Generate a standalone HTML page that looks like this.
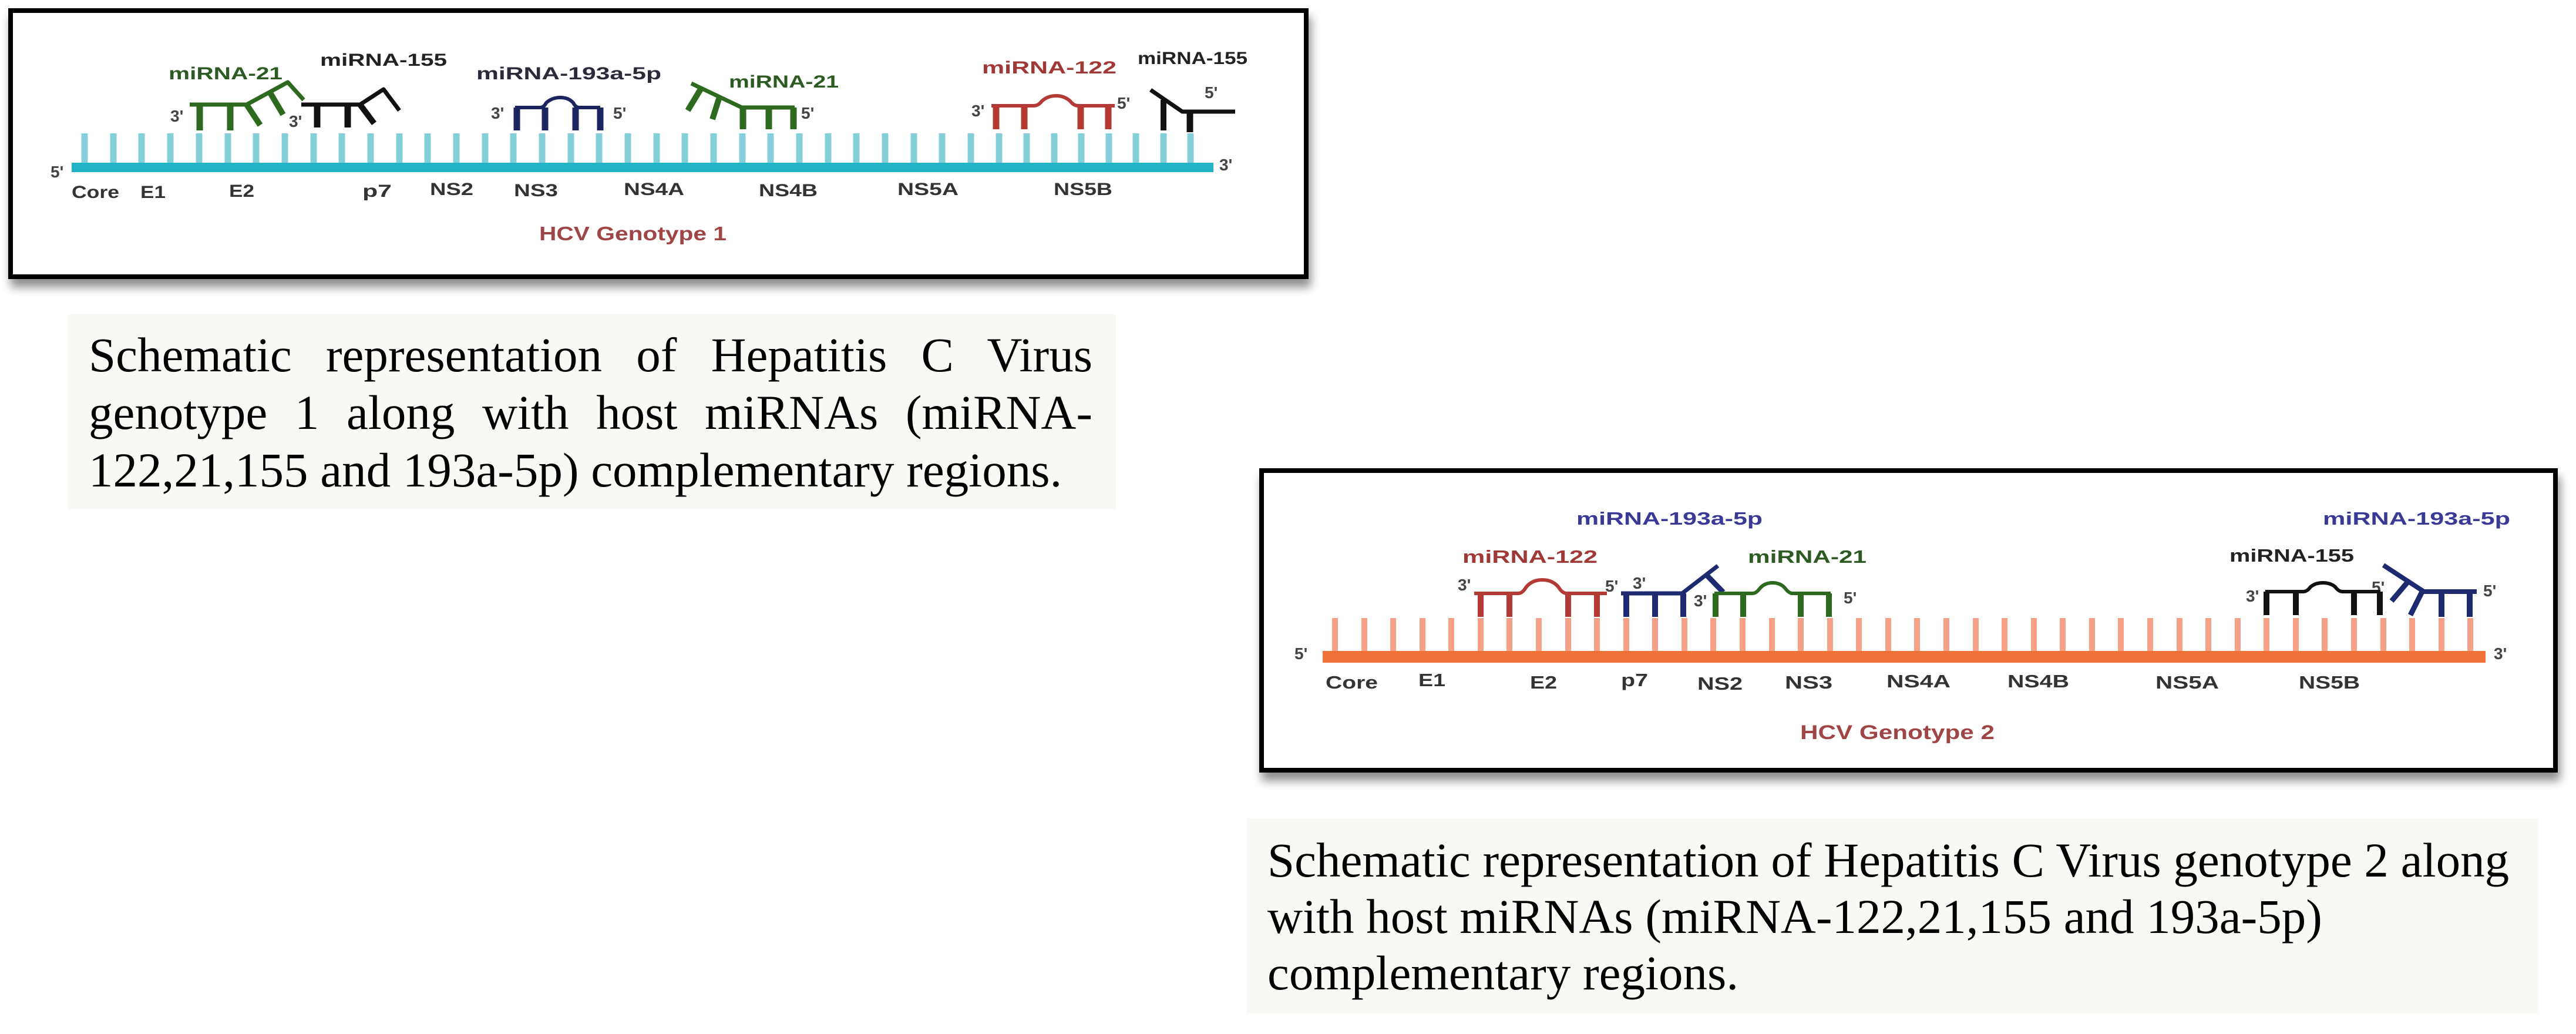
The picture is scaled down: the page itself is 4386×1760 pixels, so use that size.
<!DOCTYPE html>
<html><head><meta charset="utf-8"><style>
html,body{margin:0;padding:0;background:#fff;}
body{width:4386px;height:1760px;position:relative;overflow:hidden;}
svg{position:absolute;left:0;top:0;}
.cap{position:absolute;font-family:"Liberation Serif",serif;font-size:83px;line-height:98px;color:#000;}
.cap div{white-space:nowrap;}
.j{text-align:justify;text-align-last:justify;}
</style></head><body>
<svg width="4386" height="1760" viewBox="0 0 4386 1760" xmlns="http://www.w3.org/2000/svg">
<defs>
<filter id="sh" x="-5%" y="-10%" width="110%" height="130%">
<feGaussianBlur in="SourceAlpha" stdDeviation="8"/>
<feOffset dx="4" dy="14" result="b"/>
<feComponentTransfer><feFuncA type="linear" slope="0.45"/></feComponentTransfer>
<feMerge><feMergeNode/><feMergeNode in="SourceGraphic"/></feMerge>
</filter>
</defs>
<rect x="115" y="535" width="1785" height="332" fill="#f8f9f4"/>
<rect x="2123" y="1393" width="2198" height="332" fill="#f8f9f4"/>

<!-- Box 1 -->
<rect x="18" y="18" width="2206" height="453" fill="#fff" stroke="#000" stroke-width="8" filter="url(#sh)"/>
<g stroke="#84d0d8" stroke-width="11">
<line x1="144" y1="227" x2="144" y2="285"/><line x1="193" y1="227" x2="193" y2="285"/><line x1="241" y1="227" x2="241" y2="285"/><line x1="290" y1="227" x2="290" y2="285"/><line x1="339" y1="227" x2="339" y2="285"/><line x1="388" y1="227" x2="388" y2="285"/><line x1="436" y1="227" x2="436" y2="285"/><line x1="485" y1="227" x2="485" y2="285"/><line x1="534" y1="227" x2="534" y2="285"/><line x1="582" y1="227" x2="582" y2="285"/><line x1="631" y1="227" x2="631" y2="285"/><line x1="680" y1="227" x2="680" y2="285"/><line x1="728" y1="227" x2="728" y2="285"/><line x1="777" y1="227" x2="777" y2="285"/><line x1="826" y1="227" x2="826" y2="285"/><line x1="874" y1="227" x2="874" y2="285"/><line x1="923" y1="227" x2="923" y2="285"/><line x1="972" y1="227" x2="972" y2="285"/><line x1="1020" y1="227" x2="1020" y2="285"/><line x1="1069" y1="227" x2="1069" y2="285"/><line x1="1118" y1="227" x2="1118" y2="285"/><line x1="1166" y1="227" x2="1166" y2="285"/><line x1="1215" y1="227" x2="1215" y2="285"/><line x1="1264" y1="227" x2="1264" y2="285"/><line x1="1312" y1="227" x2="1312" y2="285"/><line x1="1361" y1="227" x2="1361" y2="285"/><line x1="1410" y1="227" x2="1410" y2="285"/><line x1="1458" y1="227" x2="1458" y2="285"/><line x1="1507" y1="227" x2="1507" y2="285"/><line x1="1556" y1="227" x2="1556" y2="285"/><line x1="1604" y1="227" x2="1604" y2="285"/><line x1="1653" y1="227" x2="1653" y2="285"/><line x1="1701" y1="227" x2="1701" y2="285"/><line x1="1748" y1="227" x2="1748" y2="285"/><line x1="1795" y1="227" x2="1795" y2="285"/><line x1="1841" y1="227" x2="1841" y2="285"/><line x1="1888" y1="227" x2="1888" y2="285"/><line x1="1934" y1="227" x2="1934" y2="285"/><line x1="1981" y1="227" x2="1981" y2="285"/><line x1="2027" y1="227" x2="2027" y2="285"/>
</g>
<rect x="122" y="277" width="1944" height="16" fill="#22b3c6"/>
<g font-family="Liberation Sans,sans-serif" font-weight="bold" fill="#444" font-size="28">
<text x="86" y="302">5'</text><text x="2076" y="290">3'</text>
<text x="290" y="207">3'</text><text x="492" y="216">3'</text>
<text x="836" y="202">3'</text><text x="1044" y="202">5'</text>
<text x="1364" y="202">5'</text>
<text x="1654" y="198">3'</text><text x="1902" y="185">5'</text>
<text x="2051" y="167">5'</text>
</g>
<g fill="none" stroke-linecap="butt" stroke-linejoin="round">
<g stroke="#2d6a1f">
<polyline points="323,178 420,178 490,140 517,170" stroke-width="7"/>
<line x1="340" y1="178" x2="340" y2="222" stroke-width="11"/>
<line x1="392" y1="178" x2="392" y2="222" stroke-width="11"/>
<line x1="420" y1="178" x2="443" y2="213" stroke-width="10"/>
<line x1="460" y1="158" x2="482" y2="195" stroke-width="10"/>
</g>
<g stroke="#111">
<polyline points="513,178 613,178 653,152 680,188" stroke-width="7"/>
<line x1="540" y1="178" x2="540" y2="217" stroke-width="11"/>
<line x1="592" y1="178" x2="592" y2="217" stroke-width="11"/>
<line x1="613" y1="178" x2="637" y2="210" stroke-width="10"/>
</g>
<g stroke="#1c2460">
<path d="M877,183 H920 Q926,183 930,175 Q940,166 954,166 Q968,166 976,175 Q980,183 986,183 H1022" stroke-width="6"/>
<line x1="880" y1="183" x2="880" y2="222" stroke-width="11"/>
<line x1="928" y1="183" x2="928" y2="222" stroke-width="11"/>
<line x1="980" y1="183" x2="980" y2="222" stroke-width="11"/>
<line x1="1022" y1="183" x2="1022" y2="222" stroke-width="11"/>
</g>
<g stroke="#2d6a1f">
<polyline points="1177,142 1263,183 1353,183" stroke-width="7"/>
<line x1="1194" y1="150" x2="1171" y2="188" stroke-width="10"/>
<line x1="1225" y1="165" x2="1213" y2="203" stroke-width="10"/>
<line x1="1265" y1="183" x2="1265" y2="220" stroke-width="11"/>
<line x1="1309" y1="183" x2="1309" y2="220" stroke-width="11"/>
<line x1="1351" y1="183" x2="1351" y2="220" stroke-width="11"/>
</g>
<g stroke="#b33a35">
<path d="M1688,180 H1760 Q1768,180 1774,172 Q1784,163 1798,163 Q1812,163 1822,172 Q1828,180 1836,180 H1898" stroke-width="6"/>
<line x1="1696" y1="180" x2="1696" y2="220" stroke-width="11"/>
<line x1="1744" y1="180" x2="1744" y2="220" stroke-width="11"/>
<line x1="1840" y1="180" x2="1840" y2="220" stroke-width="11"/>
<line x1="1887" y1="180" x2="1887" y2="220" stroke-width="11"/>
</g>
<g stroke="#111">
<polyline points="1959,153 2013,190 2103,190" stroke-width="7"/>
<line x1="1981" y1="170" x2="1981" y2="222" stroke-width="10"/>
<line x1="2026" y1="190" x2="2026" y2="225" stroke-width="11"/>
</g>
</g>
<g font-family="Liberation Sans,sans-serif" font-weight="bold" font-size="30">
<text x="287" y="135" textLength="194" lengthAdjust="spacingAndGlyphs" fill="#2d5a22">miRNA-21</text>
<text x="545" y="112" textLength="216" lengthAdjust="spacingAndGlyphs" fill="#222">miRNA-155</text>
<text x="811" y="135" textLength="315" lengthAdjust="spacingAndGlyphs" fill="#2a2a3a">miRNA-193a-5p</text>
<text x="1241" y="149" textLength="187" lengthAdjust="spacingAndGlyphs" fill="#2d5a22">miRNA-21</text>
<text x="1672" y="125" textLength="229" lengthAdjust="spacingAndGlyphs" fill="#a03838">miRNA-122</text>
<text x="1937" y="109" textLength="187" lengthAdjust="spacingAndGlyphs" fill="#222">miRNA-155</text>
</g>
<g font-family="Liberation Sans,sans-serif" font-weight="bold" font-size="30" fill="#333">
<text x="122" y="337" textLength="81" lengthAdjust="spacingAndGlyphs">Core</text>
<text x="239" y="337" textLength="43" lengthAdjust="spacingAndGlyphs">E1</text>
<text x="390" y="335" textLength="43" lengthAdjust="spacingAndGlyphs">E2</text>
<text x="617" y="335" textLength="50" lengthAdjust="spacingAndGlyphs">p7</text>
<text x="732" y="332" textLength="74" lengthAdjust="spacingAndGlyphs">NS2</text>
<text x="875" y="334" textLength="75" lengthAdjust="spacingAndGlyphs">NS3</text>
<text x="1062" y="332" textLength="103" lengthAdjust="spacingAndGlyphs">NS4A</text>
<text x="1292" y="334" textLength="100" lengthAdjust="spacingAndGlyphs">NS4B</text>
<text x="1528" y="332" textLength="104" lengthAdjust="spacingAndGlyphs">NS5A</text>
<text x="1794" y="332" textLength="100" lengthAdjust="spacingAndGlyphs">NS5B</text>
<text x="918" y="409" font-size="33" textLength="319" lengthAdjust="spacingAndGlyphs" fill="#a04545">HCV Genotype 1</text>
</g>

<!-- Box 2 -->
<rect x="2148" y="801" width="2203" height="510" fill="#fff" stroke="#000" stroke-width="8" filter="url(#sh)"/>
<g stroke="#f6a088" stroke-width="10">
<line x1="2273" y1="1052" x2="2273" y2="1112"/><line x1="2323" y1="1052" x2="2323" y2="1112"/><line x1="2372" y1="1052" x2="2372" y2="1112"/><line x1="2422" y1="1052" x2="2422" y2="1112"/><line x1="2471" y1="1052" x2="2471" y2="1112"/><line x1="2521" y1="1052" x2="2521" y2="1112"/><line x1="2570" y1="1052" x2="2570" y2="1112"/><line x1="2620" y1="1052" x2="2620" y2="1112"/><line x1="2670" y1="1052" x2="2670" y2="1112"/><line x1="2719" y1="1052" x2="2719" y2="1112"/><line x1="2769" y1="1052" x2="2769" y2="1112"/><line x1="2818" y1="1052" x2="2818" y2="1112"/><line x1="2868" y1="1052" x2="2868" y2="1112"/><line x1="2917" y1="1052" x2="2917" y2="1112"/><line x1="2967" y1="1052" x2="2967" y2="1112"/><line x1="3017" y1="1052" x2="3017" y2="1112"/><line x1="3066" y1="1052" x2="3066" y2="1112"/><line x1="3116" y1="1052" x2="3116" y2="1112"/><line x1="3165" y1="1052" x2="3165" y2="1112"/><line x1="3215" y1="1052" x2="3215" y2="1112"/><line x1="3264" y1="1052" x2="3264" y2="1112"/><line x1="3314" y1="1052" x2="3314" y2="1112"/><line x1="3364" y1="1052" x2="3364" y2="1112"/><line x1="3413" y1="1052" x2="3413" y2="1112"/><line x1="3463" y1="1052" x2="3463" y2="1112"/><line x1="3512" y1="1052" x2="3512" y2="1112"/><line x1="3562" y1="1052" x2="3562" y2="1112"/><line x1="3611" y1="1052" x2="3611" y2="1112"/><line x1="3661" y1="1052" x2="3661" y2="1112"/><line x1="3711" y1="1052" x2="3711" y2="1112"/><line x1="3760" y1="1052" x2="3760" y2="1112"/><line x1="3810" y1="1052" x2="3810" y2="1112"/><line x1="3859" y1="1052" x2="3859" y2="1112"/><line x1="3909" y1="1052" x2="3909" y2="1112"/><line x1="3958" y1="1052" x2="3958" y2="1112"/><line x1="4008" y1="1052" x2="4008" y2="1112"/><line x1="4058" y1="1052" x2="4058" y2="1112"/><line x1="4107" y1="1052" x2="4107" y2="1112"/><line x1="4157" y1="1052" x2="4157" y2="1112"/><line x1="4206" y1="1052" x2="4206" y2="1112"/>
</g>
<rect x="2252" y="1108" width="1980" height="20" fill="#f07238"/>
<g font-family="Liberation Sans,sans-serif" font-weight="bold" fill="#444" font-size="28">
<text x="2204" y="1122">5'</text><text x="4246" y="1122">3'</text>
<text x="2482" y="1005">3'</text><text x="2733" y="1007">5'</text>
<text x="2780" y="1002">3'</text><text x="2884" y="1032">3'</text>
<text x="3139" y="1027">5'</text>
<text x="3824" y="1024">3'</text><text x="4038" y="1009">5'</text>
<text x="4228" y="1015">5'</text>
</g>
<g fill="none" stroke-linejoin="round">
<g stroke="#b33a35">
<path d="M2510,1010 H2585 Q2592,1010 2598,1000 Q2608,987 2626,987 Q2644,987 2654,1000 Q2660,1010 2668,1010 H2736" stroke-width="6"/>
<line x1="2521" y1="1010" x2="2521" y2="1050" stroke-width="10"/>
<line x1="2570" y1="1010" x2="2570" y2="1050" stroke-width="10"/>
<line x1="2670" y1="1010" x2="2670" y2="1050" stroke-width="10"/>
<line x1="2719" y1="1010" x2="2719" y2="1050" stroke-width="10"/>
</g>
<g stroke="#1d2a70">
<polyline points="2760,1010 2864,1010 2925,963" stroke-width="7"/>
<line x1="2903" y1="976" x2="2934" y2="1008" stroke-width="9"/>
<line x1="2769" y1="1010" x2="2769" y2="1050" stroke-width="10"/>
<line x1="2818" y1="1010" x2="2818" y2="1050" stroke-width="10"/>
<line x1="2866" y1="1010" x2="2866" y2="1050" stroke-width="10"/>
</g>
<g stroke="#2d6a1f">
<path d="M2919,1010 H2984 Q2990,1010 2996,1002 Q3004,992 3018,992 Q3032,992 3040,1002 Q3046,1010 3052,1010 H3117" stroke-width="6"/>
<line x1="2921" y1="1010" x2="2921" y2="1050" stroke-width="10"/>
<line x1="2968" y1="1010" x2="2968" y2="1050" stroke-width="10"/>
<line x1="3066" y1="1010" x2="3066" y2="1050" stroke-width="10"/>
<line x1="3114" y1="1010" x2="3114" y2="1050" stroke-width="10"/>
</g>
<g stroke="#111">
<path d="M3857,1007 H3922 Q3928,1007 3934,999 Q3942,992 3955,992 Q3968,992 3976,999 Q3982,1007 3988,1007 H4053" stroke-width="6"/>
<line x1="3859" y1="1007" x2="3859" y2="1047" stroke-width="10"/>
<line x1="3909" y1="1007" x2="3909" y2="1047" stroke-width="10"/>
<line x1="4008" y1="1007" x2="4008" y2="1047" stroke-width="10"/>
<line x1="4052" y1="1007" x2="4052" y2="1047" stroke-width="10"/>
</g>
<g stroke="#1d2a70">
<polyline points="4058,962 4127,1007 4217,1007" stroke-width="8"/>
<line x1="4100" y1="990" x2="4072" y2="1023" stroke-width="9"/>
<line x1="4124" y1="1007" x2="4104" y2="1047" stroke-width="9"/>
<line x1="4157" y1="1007" x2="4157" y2="1050" stroke-width="10"/>
<line x1="4205" y1="1007" x2="4205" y2="1050" stroke-width="10"/>
</g>
</g>
<g font-family="Liberation Sans,sans-serif" font-weight="bold" font-size="31">
<text x="2684" y="893" textLength="317" lengthAdjust="spacingAndGlyphs" fill="#3a3a96">miRNA-193a-5p</text>
<text x="2490" y="958" textLength="230" lengthAdjust="spacingAndGlyphs" fill="#a03838">miRNA-122</text>
<text x="2976" y="958" textLength="202" lengthAdjust="spacingAndGlyphs" fill="#2d5a22">miRNA-21</text>
<text x="3796" y="956" textLength="212" lengthAdjust="spacingAndGlyphs" fill="#222">miRNA-155</text>
<text x="3955" y="893" textLength="319" lengthAdjust="spacingAndGlyphs" fill="#3a3a96">miRNA-193a-5p</text>
</g>
<g font-family="Liberation Sans,sans-serif" font-weight="bold" font-size="31" fill="#333">
<text x="2257" y="1172" textLength="89" lengthAdjust="spacingAndGlyphs">Core</text>
<text x="2415" y="1168" textLength="46" lengthAdjust="spacingAndGlyphs">E1</text>
<text x="2605" y="1172" textLength="46" lengthAdjust="spacingAndGlyphs">E2</text>
<text x="2760" y="1168" textLength="46" lengthAdjust="spacingAndGlyphs">p7</text>
<text x="2890" y="1174" textLength="77" lengthAdjust="spacingAndGlyphs">NS2</text>
<text x="3039" y="1172" textLength="81" lengthAdjust="spacingAndGlyphs">NS3</text>
<text x="3212" y="1170" textLength="109" lengthAdjust="spacingAndGlyphs">NS4A</text>
<text x="3418" y="1170" textLength="105" lengthAdjust="spacingAndGlyphs">NS4B</text>
<text x="3670" y="1172" textLength="108" lengthAdjust="spacingAndGlyphs">NS5A</text>
<text x="3914" y="1172" textLength="104" lengthAdjust="spacingAndGlyphs">NS5B</text>
<text x="3065" y="1258" font-size="34" textLength="331" lengthAdjust="spacingAndGlyphs" fill="#a04545">HCV Genotype 2</text>
</g>
</svg>

<div class="cap" style="left:151px;top:555px;width:1709px;">
<div class="j">Schematic representation of Hepatitis C Virus</div>
<div class="j">genotype 1 along with host miRNAs (miRNA-</div>
<div>122,21,155 and 193a-5p) complementary regions.</div>
</div>
<div class="cap" style="left:2158px;top:1416px;width:2140px;line-height:96px;">
<div>Schematic representation of Hepatitis C Virus genotype 2 along</div>
<div>with host miRNAs (miRNA-122,21,155 and 193a-5p)</div>
<div>complementary regions.</div>
</div>
</body></html>
